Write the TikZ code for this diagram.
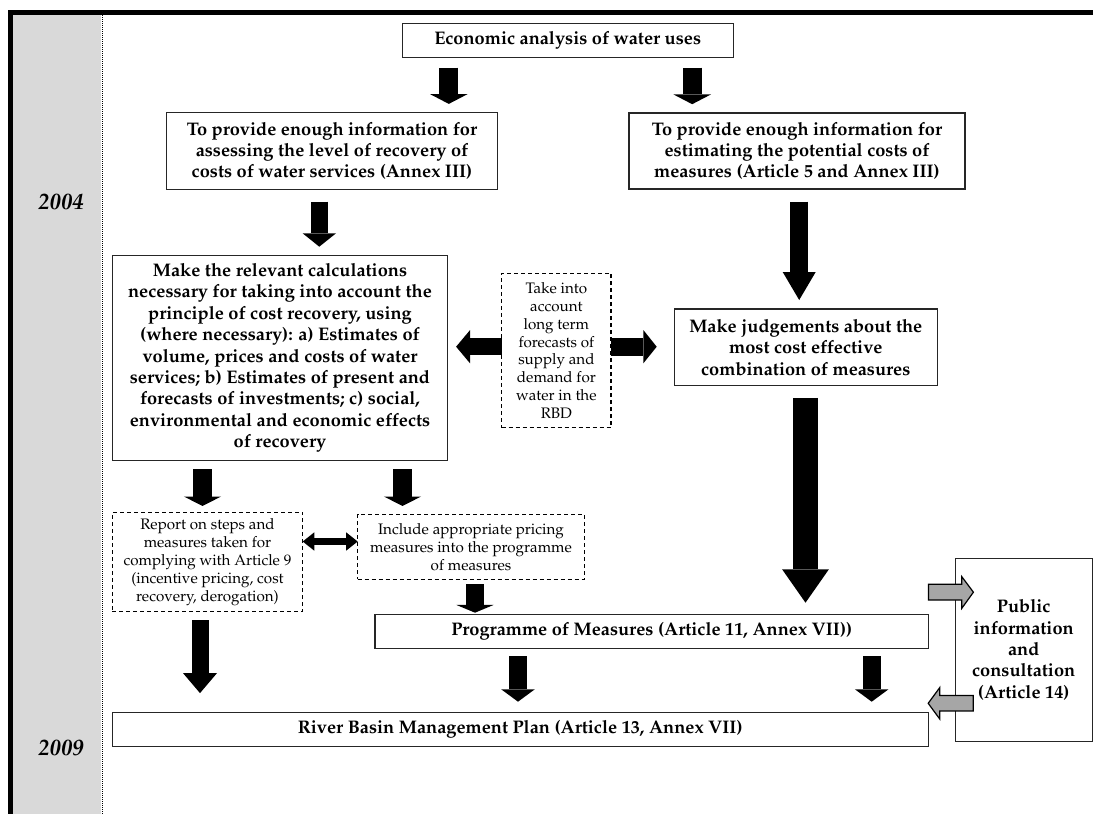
\documentclass[tikz,border=0pt]{standalone}
\usepackage[T1]{fontenc}
\usepackage{mathpazo}
\usepackage{xcolor}
\usetikzlibrary{arrows.meta,positioning,calc}
\definecolor{yearband}{RGB}{217,217,217}
\definecolor{pubarrow}{RGB}{166,166,166}

\begin{document}
\begin{tikzpicture}[
  % pixel grid of the page, y pointing down
  x=0.5pt, y=-0.5pt,
  every node/.style={inner sep=0pt, outer sep=0pt},
  box/.style={
    draw=black!85,
    line width=0.6pt,
    fill=white,
    align=center,
    font=\bfseries\fontsize{9.1}{10.7}\selectfont
  },
  dbox/.style={
    draw=black,
    line width=0.75pt,
    dash pattern=on 2pt off 1.5pt,
    fill=white,
    align=center,
    font=\fontsize{7.6}{8.95}\selectfont
  },
  year/.style={font=\bfseries\itshape\fontsize{11.3}{13}\selectfont},
  fatarrow/.style n args={3}{
    line width=#1,
    -{Triangle[width=#2, length=#3, line width=0pt]}
  },
  fatboth/.style n args={3}{
    line width=#1,
    {Triangle[width=#2, length=#3, line width=0pt]}-{Triangle[width=#2, length=#3, line width=0pt]}
  },
  grayarrow/.style={draw=black, line width=0.6pt, fill=pubarrow}
]
\useasboundingbox (0,0) rectangle (1093,814);

% Frame and year band
\fill[yearband] (13,15) rectangle (101,814);
\draw[line width=0.6pt, dash pattern=on 0.5pt off 0.5pt] (102.5,15) -- (102.5,814);
\draw[line width=2.5pt] (8,12.5) -- (1093,12.5);
\draw[line width=2.5pt] (10.5,10) -- (10.5,814);

% Years
\node[year] (y2004) at (61,202) {2004};
\node[year] (y2009) at (61,748) {2009};

% Economic analysis
\node[box, minimum width=165.5pt, minimum height=17pt] (econ) at (567.7,40.3) {Economic analysis of water uses};

% Information boxes
\node[box, minimum width=165.3pt, minimum height=38.3pt] (recov) at (332,151) {To provide enough information for\\assessing the level of recovery of\\costs of water services (Annex III)};
\node[box, minimum width=168pt, minimum height=38pt] (costs) at (797,151) {To provide enough information for\\estimating the potential costs of\\measures (Article 5 and Annex III)};

% Calculations
\node[box, minimum width=167.7pt, minimum height=102.2pt] (calc) at (280,357.9) {Make the relevant calculations\\necessary for taking into account the\\principle of cost recovery, using\\(where necessary): a) Estimates of\\volume, prices and costs of water\\services; b) Estimates of present and\\forecasts of investments; c) social,\\environmental and economic effects\\of recovery};

% Forecasts
\node[dbox, minimum width=54.7pt, minimum height=77.2pt] (forecast) at (556.4,350.5) {Take into\\account\\long term\\forecasts of\\supply and\\demand for\\water in the\\RBD};

% Judgements
\node[box, minimum width=131.5pt, minimum height=38.4pt] (judge) at (805.8,347.4) {Make judgements about the\\most cost effective\\combination of measures};

% Report and pricing
\node[dbox, minimum width=95.2pt, minimum height=49.7pt] (report) at (207.5,562) {Report on steps and\\measures taken for\\complying with Article 9\\(incentive pricing, cost\\recovery, derogation)};
\node[dbox, minimum width=113.3pt, minimum height=32.5pt] (pricing) at (471,546.8) {Include appropriate pricing\\measures into the programme\\of measures};

% Programme, plan, public
\node[box, minimum width=276.7pt, minimum height=17pt] (pom) at (651.7,631.3) {Programme of Measures (Article 11, Annex VII))};
\node[box, minimum width=408pt, minimum height=16.7pt] (rbmp) at (520.2,729.4) {River Basin Management Plan (Article 13, Annex VII)};
\node[box, minimum width=68.4pt, minimum height=91.7pt] (public) at (1023.7,650) {Public\\information\\and\\consultation\\(Article 14)};

% Block arrows
\draw[fatarrow={9.5pt}{18.8pt}{4.9pt}, shorten <=5.2pt, shorten >=4.4pt] (448.8,0 |- econ.south) -- (448.8,0 |- recov.north);
\draw[fatarrow={9.5pt}{18.8pt}{4.9pt}, shorten <=5.2pt, shorten >=4.4pt] (692.2,0 |- econ.south) -- (692.2,0 |- costs.north);
\draw[fatarrow={8.4pt}{16.7pt}{6.7pt}, shorten <=6.2pt, shorten >=4.5pt] (319.3,0 |- recov.south) -- (319.3,0 |- calc.north);
\draw[fatarrow={9pt}{16.5pt}{14pt}, shorten <=6.3pt, shorten >=4.5pt] (799.2,0 |- costs.south) -- (799.2,0 |- judge.north);
\draw[fatarrow={8.4pt}{16.7pt}{7pt}, shorten >=4.2pt] (forecast.west |- 0,346.7) -- (calc.east |- 0,346.7);
\draw[fatarrow={9pt}{16.7pt}{6.7pt}, shorten >=8.8pt] (forecast.east |- 0,346.7) -- (judge.west |- 0,346.7);
\draw[fatarrow={12.2pt}{23.4pt}{16.7pt}, shorten <=6pt, shorten >=5.8pt] (805.5,0 |- judge.south) -- (805.5,0 |- pom.north);
\draw[fatarrow={9.2pt}{18.7pt}{4.7pt}, shorten <=4.5pt, shorten >=3.2pt] (202.5,0 |- calc.south) -- (202.5,0 |- report.north);
\draw[fatarrow={9.2pt}{18.7pt}{4.7pt}, shorten <=4.5pt, shorten >=4.2pt] (402.5,0 |- calc.south) -- (402.5,0 |- pricing.north);
\draw[fatboth={3.9pt}{9.2pt}{5.8pt}] (report.east |- 0,541.5) -- (pricing.west |- 0,541.5);
\draw[fatarrow={9.2pt}{18.7pt}{3.9pt}, shorten <=2.5pt, shorten >=0.8pt] (475,0 |- pricing.south) -- (475,0 |- pom.north);
\draw[fatarrow={8.5pt}{17pt}{10pt}, shorten <=4.2pt, shorten >=9.8pt] (200,0 |- report.south) -- (200,0 |- rbmp.north);
\draw[fatarrow={8.8pt}{16.8pt}{6.2pt}, shorten <=3.9pt, shorten >=5.5pt] (518,0 |- pom.south) -- (518,0 |- rbmp.north);
\draw[fatarrow={8.8pt}{16.8pt}{6.2pt}, shorten <=3.9pt, shorten >=5.5pt] (871.7,0 |- pom.south) -- (871.7,0 |- rbmp.north);

% Consultation arrows
\draw[grayarrow] (pom.east |- 0,584.3) -- ++(33.4,0) -- ++(0,-7.6) -- ++(11.6,15.5) -- ++(-11.6,16.1) -- ++(0,-8.3) -- ++(-33.4,0) -- cycle;
\draw[grayarrow] (rbmp.east |- 0,703.3) -- ++(11.6,-15.8) -- ++(0,8) -- ++(33.4,0) -- ++(0,15.4) -- ++(-33.4,0) -- ++(0,8.2) -- cycle;

\end{tikzpicture}
\end{document}
